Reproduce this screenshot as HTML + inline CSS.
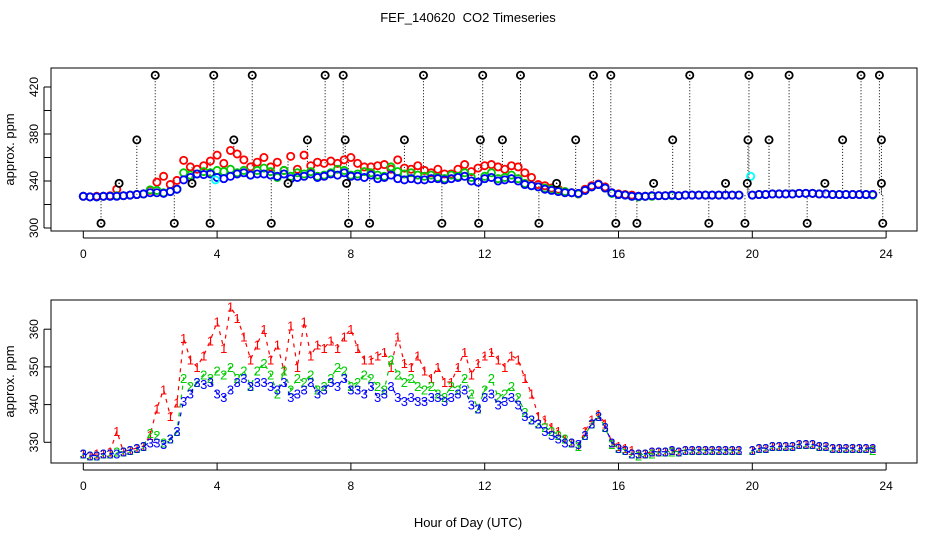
<!DOCTYPE html>
<html><head><meta charset="utf-8"><style>
body{margin:0;background:#fff;}
svg{display:block;font-family:"Liberation Sans",sans-serif;}
</style></head><body>
<svg id="chart" width="936" height="540" viewBox="0 0 936 540" xmlns="http://www.w3.org/2000/svg">
<text x="468" y="22" font-size="13" text-anchor="middle" xml:space="preserve">FEF_140620  CO2 Timeseries</text>
<text x="468" y="527" font-size="13" text-anchor="middle">Hour of Day (UTC)</text>
<g id="top"></g>
<g id="bot"></g>
</svg>
<script>
// hours sampled every 0.2 h
const hours = Array.from({length:120},(_,i)=>+(i*0.2).toFixed(1));
const red = [327,326.5,327,327,327.5,333,327.5,328,328.5,329,
 332,339,344,337,340.5,357.6,352,350,353,357,
 362,355,366,363,358,352,356,360,352,356,
 349,361,350,362,353,356,355,357,355,358,
 360,355,352,352,353,354,350,358,351,350,
 353,349,347,350,346,346,350,354,348,351,
 353,354,352,350,353,352,347,343,337,336,
 334,333,331,330,329,333,336,337.5,335,330,
 329,328.5,328,327,327,327.5,327.5,327.5,328,327.5,
 328,328,328,328,328,328,328,328,328,null,
 328,328.5,328.5,329,329,329,329,329.5,329.5,329.5,
 329,329,328.5,328.5,328.5,328.5,328.5,328.5,328.5,null];
const green = [327,326.5,326.5,327,327,327.5,327.5,328,328.5,329,
 332.5,332,330,331,333,347,345,346,348,347,
 349,348,350,347,349,345,349,351,348,343,
 349,344,347,346,348,344,345,347,350,349,
 345,346,348,347,345,344,352,348,346,347,
 345,344,345,343,342,345,344,347,343,339,
 344,347,342,343,345,342,338,336,335,334,
 333,332,331,330,329,332,335,337,334,329.5,
 328.5,328,327,326.5,327,327,327.5,327.5,327.5,327.5,
 328,328,328,328,328,328,328,328,328,null,
 328,328.5,328.5,329,329,329,329,329.5,329.5,329.5,
 329,329,328.5,328.5,328.5,328.5,328.5,328.5,328,null];
const blue = [327,326.5,326.5,327,327,327,327.5,328,328.5,329,
 330,330,329.5,331,333,341,343,346,345.5,346,
 343,342,344,346,347,345,346,346,345,344,
 346,342,343,344,346,343,344,346,345,347,
 344,344,343,345,342,343,345,342,341,342,
 341,341,342,342,341,342,343,344,340,339,
 342,343,340,341,342,340,337,336,335,333,
 332,331,330,330,329.5,332,335,337,334,330,
 328.5,328,327,327,327,327.5,327.5,327.5,328,327.5,
 328,328,328,328,328,328,328,328,328,null,
 328,328.5,328.5,329,329,329,329,329.5,329.5,329.5,
 329,329,328.5,328.5,328.5,328.5,328.5,328.5,328.5,null];
const outHours = [2.15,3.9,5.05,7.23,7.77,10.17,11.94,13.07,15.25,15.77,18.13,19.9,21.1,23.25,23.8,
 1.6,4.5,6.7,7.83,9.6,11.87,12.53,14.72,17.62,19.87,20.5,22.7,23.86,
 1.07,3.25,6.12,7.87,14.15,17.05,19.2,19.85,22.17,23.86,
 0.53,2.72,3.79,5.62,7.93,8.56,10.72,11.82,13.62,15.92,16.55,18.7,19.78,21.64,23.9];
const outValues = [430,430,430,430,430,430,430,430,430,430,430,430,430,430,430,
 375,375,375,375,375,375,375,375,375,375,375,375,375,
 338,338,338,338,338,338,338,338,338,338,
 304,304,304,304,304,304,304,304,304,304,304,304,304,304,304];
const cyanHours=[3.95,19.95];
const cyanValues=[341,344];
const xTicks=[0,4,8,12,16,20,24];
const topTicks=[300,320,340,360,380,400,420];
const topLabels=[300,340,380,420];
const botTicks=[330,340,350,360];

const NS="http://www.w3.org/2000/svg";
function mk(parent,tag,attrs){const e=document.createElementNS(NS,tag);for(const k in attrs)e.setAttribute(k,attrs[k]);parent.appendChild(e);return e;}
const X=h=>83.3+h*33.45;
const box={l:51,r:917};
function frame(g,top,bottom,yfn,ticks,labels,name){
  const r=mk(g,'rect',{x:box.l,y:top,width:box.r-box.l,height:bottom-top,fill:'none',stroke:'#000','stroke-width':1});
  
  
  xTicks.forEach(t=>{
    const l=mk(g,'line',{x1:X(t),x2:X(t),y1:bottom,y2:bottom+7,stroke:'#000'});
    
    
    const tx=mk(g,'text',{x:X(t),y:bottom+27,'font-size':12,'text-anchor':'middle'});tx.textContent=t;
    
    
  });
  mk(g,'line',{x1:X(0),x2:X(24),y1:bottom+7,y2:bottom+7,stroke:'#000'});
  const yt=ticks.map(yfn);
  mk(g,'line',{x1:box.l-7,x2:box.l-7,y1:Math.min(...yt),y2:Math.max(...yt),stroke:'#000'});
  ticks.forEach(t=>{
    const l=mk(g,'line',{x1:box.l-7,x2:box.l,y1:yfn(t),y2:yfn(t),stroke:'#000'});
    
    
  });
  labels.forEach(t=>{
    const tx=mk(g,'text',{x:0,y:0,'font-size':12,'text-anchor':'middle',transform:`translate(${box.l-13},${yfn(t)}) rotate(-90)`});tx.textContent=t;
    
    
  });
  const yl=mk(g,'text',{x:0,y:0,'font-size':13,'text-anchor':'middle',transform:`translate(14,${(top+bottom)/2}) rotate(-90)`});yl.textContent='approx. ppm';
  
  
}
// top panel
const gT=document.getElementById('top');
const YT=v=>228-(v-300)*1.175;
frame(gT,68,231,YT,topTicks,topLabels,'top');
outHours.forEach((h,i)=>{
  const k=Math.min(119,Math.round(h/0.2));
  const ref=red[k]!=null?red[k]:328;
  const l=mk(gT,'line',{x1:X(h),x2:X(h),y1:YT(outValues[i]),y2:YT(ref),stroke:'#000','stroke-dasharray':'1,2','stroke-width':1});
  
  
});
[[red,'#f00','red'],[green,'#0c0','green'],[blue,'#00f','blue']].forEach(([arr,c,n])=>{
  arr.forEach((v,i)=>{ if(v==null)return;
    const p=mk(gT,'circle',{cx:X(hours[i]),cy:YT(v),r:3.6,fill:'none',stroke:c,'stroke-width':1.8});
    
    
  });
});
cyanHours.forEach((h,i)=>{
  const p=mk(gT,'circle',{cx:X(h),cy:YT(cyanValues[i]),r:3.6,fill:'none',stroke:'#0ff','stroke-width':1.8});
  
  
});
outHours.forEach((h,i)=>{
  const p=mk(gT,'circle',{cx:X(h),cy:YT(outValues[i]),r:3.6,fill:'#fff',stroke:'#000','stroke-width':1.8});
  
  
  mk(gT,'circle',{cx:X(h),cy:YT(outValues[i]),r:0.8,fill:'#000'});
});
// bottom panel
const gB=document.getElementById('bot');
const YB=v=>442.3-(v-330)*3.77;
frame(gB,300,463,YB,botTicks,botTicks,'bottom');
[[red,'#f00','1','red'],[green,'#0c0','2','green'],[blue,'#00f','3','blue']].forEach(([arr,c,ch,n])=>{
  let d='';let pen=false;
  arr.forEach((v,i)=>{ if(v==null){pen=false;return;} d+=(pen?'L':'M')+X(hours[i]).toFixed(1)+','+YB(v).toFixed(1);pen=true;});
  const pl=mk(gB,'path',{d:d,fill:'none',stroke:c,'stroke-width':1.2,'stroke-dasharray':'4,5'});
  
  
  arr.forEach((v,i)=>{ if(v==null)return;
    const t=mk(gB,'text',{x:X(hours[i]),y:YB(v)+5,'font-size':13,'text-anchor':'middle',fill:c});t.textContent=ch;
    
    
  });
});
</script>
</body></html>
